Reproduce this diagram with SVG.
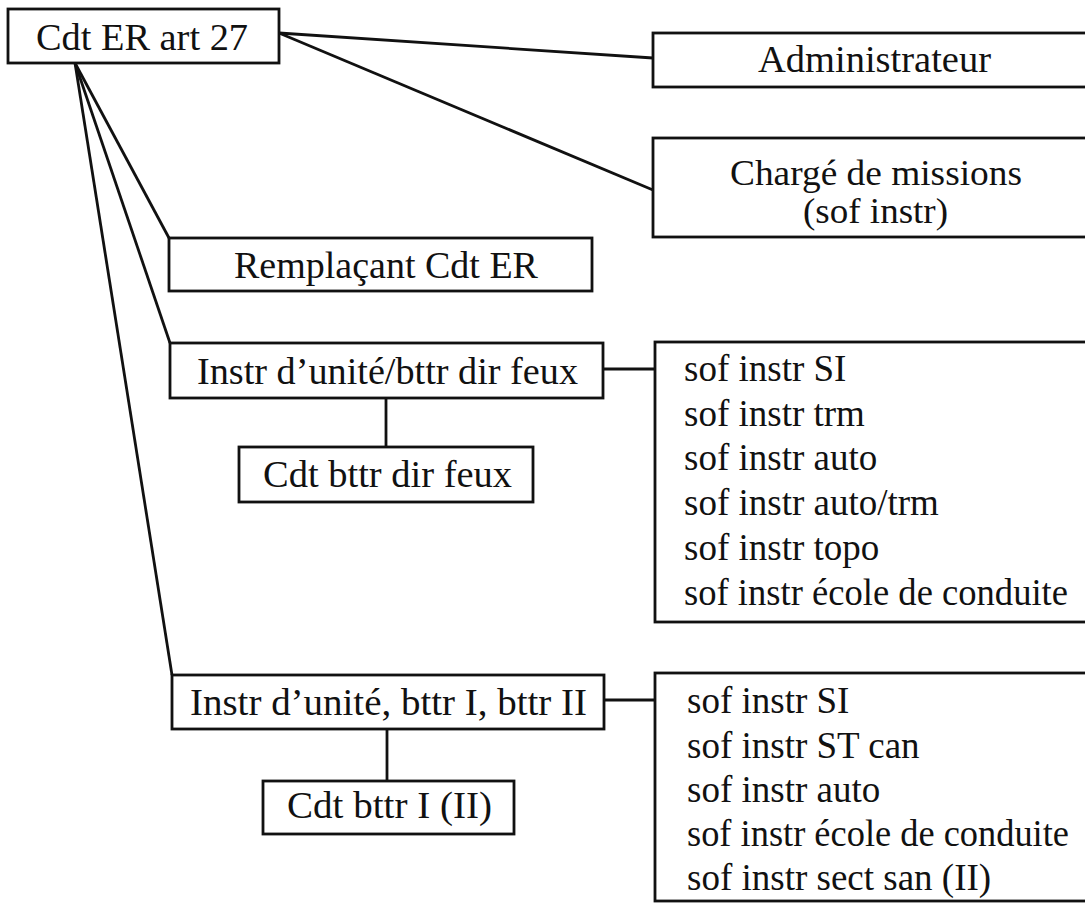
<svg xmlns="http://www.w3.org/2000/svg" width="1085" height="904" viewBox="0 0 1085 904">
<style>
.box{fill:#fff;stroke:#111;stroke-width:2.8}
.ln{stroke:#111;stroke-width:2.8;fill:none}
text{font-family:"Liberation Serif","Times New Roman",serif;font-size:38px;fill:#111}
.l{font-size:37px}
.s{font-size:35px}
</style>
<rect width="1085" height="904" fill="#fff"/>
<g id="connectors">
<line class="ln" x1="279" y1="33" x2="653" y2="58"/>
<line class="ln" x1="279" y1="33" x2="653" y2="190"/>
<line class="ln" x1="75" y1="63" x2="169" y2="238"/>
<line class="ln" x1="75" y1="63" x2="170" y2="343"/>
<line class="ln" x1="75" y1="63" x2="172" y2="675"/>
<line class="ln" x1="603" y1="369" x2="655" y2="369"/>
<line class="ln" x1="386" y1="398" x2="386" y2="447"/>
<line class="ln" x1="604" y1="700" x2="655" y2="700"/>
<line class="ln" x1="387" y1="729" x2="387" y2="781"/>
</g>
<g id="cdt-er">
<rect class="box" x="8" y="9" width="271" height="54"/>
<text x="36" y="50" textLength="212" lengthAdjust="spacingAndGlyphs">Cdt ER art 27</text>
</g>
<g id="administrateur">
<rect class="box" x="653" y="33" width="440" height="54"/>
<text x="758" y="72" textLength="233" lengthAdjust="spacingAndGlyphs">Administrateur</text>
</g>
<g id="charge-missions">
<rect class="box" x="653" y="138" width="440" height="99"/>
<text class="s" x="730" y="185" textLength="292" lengthAdjust="spacingAndGlyphs">Chargé de missions</text>
<text class="s" x="803" y="223" textLength="145" lengthAdjust="spacingAndGlyphs">(sof instr)</text>
</g>
<g id="remplacant">
<rect class="box" x="169" y="238" width="423" height="53"/>
<text x="234" y="278">Remplaçant Cdt ER</text>
</g>
<g id="instr-dir-feux">
<rect class="box" x="170" y="343" width="433" height="55"/>
<text x="197" y="384" textLength="381" lengthAdjust="spacingAndGlyphs">Instr d’unité/bttr dir feux</text>
</g>
<g id="cdt-dir-feux">
<rect class="box" x="239" y="447" width="294" height="55"/>
<text x="263" y="487" textLength="249" lengthAdjust="spacingAndGlyphs">Cdt bttr dir feux</text>
</g>
<g id="list-dir-feux">
<rect class="box" x="655" y="342" width="440" height="280"/>
<text class="l" x="684" y="381">sof instr SI</text>
<text class="l" x="684" y="426">sof instr trm</text>
<text class="l" x="684" y="470">sof instr auto</text>
<text class="l" x="684" y="515">sof instr auto/trm</text>
<text class="l" x="684" y="560">sof instr topo</text>
<text class="l" x="684" y="605" textLength="384" lengthAdjust="spacingAndGlyphs">sof instr école de conduite</text>
</g>
<g id="instr-bttr">
<rect class="box" x="172" y="675" width="432" height="54"/>
<text x="190" y="715" textLength="397" lengthAdjust="spacingAndGlyphs">Instr d’unité, bttr I, bttr II</text>
</g>
<g id="cdt-bttr">
<rect class="box" x="263" y="781" width="251" height="53"/>
<text x="287" y="818" textLength="205" lengthAdjust="spacingAndGlyphs">Cdt bttr I (II)</text>
</g>
<g id="list-bttr">
<rect class="box" x="655" y="673" width="440" height="228"/>
<text class="l" x="687" y="713">sof instr SI</text>
<text class="l" x="687" y="758">sof instr ST can</text>
<text class="l" x="687" y="802">sof instr auto</text>
<text class="l" x="687" y="846" textLength="382" lengthAdjust="spacingAndGlyphs">sof instr école de conduite</text>
<text class="l" x="687" y="890">sof instr sect san (II)</text>
</g>
</svg>
